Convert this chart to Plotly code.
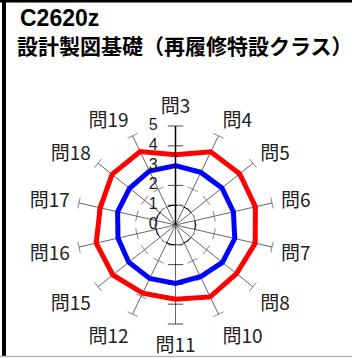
import plotly.graph_objects as go

categories = ["問3", "問4", "問5", "問6", "問7", "問8", "問10", "問11",
              "問12", "問15", "問16", "問17", "問18", "問19"]
series_red = [3.55, 4.10, 4.15, 4.14, 4.13, 3.94, 4.03, 3.75, 3.82, 4.05, 4.11, 3.90, 4.10, 4.12]
series_blue = [3.00, 2.95, 3.00, 3.00, 3.07, 3.03, 2.90, 2.95, 3.00, 3.02, 2.98, 3.00, 2.97, 3.03]
series_base = [1] * len(categories)
radial_ticks = [0, 1, 2, 3, 4, 5]
title_line1 = "C2620z"
title_line2 = "設計製図基礎（再履修特設クラス）"

n = len(categories)
FONT = "Noto Sans CJK JP, sans-serif"
NUMFONT = "Liberation Sans, Arial, sans-serif"

fig = go.Figure()

# tick marks across every spoke
tr, tt, ta, tc, ts = [], [], [], [], []
for i, c in enumerate(categories):
    ang = i * 360.0 / n
    axis_spoke = c in ("問3", "問11")
    for v in radial_ticks[1:]:
        tr.append(v)
        tt.append(c)
        ta.append(ang)
        tc.append("#000000" if axis_spoke else "#555555")
        ts.append(11 if axis_spoke else 8)
fig.add_trace(go.Scatterpolar(
    r=tr, theta=tt, mode="markers", hoverinfo="skip", showlegend=False,
    marker=dict(symbol="line-ew", size=ts, angle=ta,
                line=dict(width=1, color=tc)),
))

def closed(v):
    return list(v) + [v[0]]

cat_closed = closed(categories)

fig.add_trace(go.Scatterpolar(
    r=closed(series_base), theta=cat_closed, mode="lines", showlegend=False,
    line=dict(color="black", width=1, dash="dash", shape="spline"),
))
fig.add_trace(go.Scatterpolar(
    r=closed(series_blue), theta=cat_closed, mode="lines", showlegend=False,
    line=dict(color="#0000FF", width=5),
))
fig.add_trace(go.Scatterpolar(
    r=closed(series_red), theta=cat_closed, mode="lines", showlegend=False,
    line=dict(color="#FF0000", width=5),
))

# value-axis labels, placed to the left of the vertical axis
pad = "<span style='color:rgba(0,0,0,0)'>00</span>"
fig.add_trace(go.Scatterpolar(
    r=radial_ticks, theta=[categories[0]] * len(radial_ticks),
    mode="text", text=[f"{v}{pad}" for v in radial_ticks],
    textposition="middle left", hoverinfo="skip", showlegend=False,
    textfont=dict(size=16, family=NUMFONT, color="#222222"),
))

W, H = 352, 358
cx, cy, R = 175.5, 225.0, 99.0
fig.update_layout(
    width=W, height=H,
    margin=dict(l=0, r=0, t=0, b=0),
    paper_bgcolor="white",
    plot_bgcolor="white",
    font=dict(family=FONT, color="#222222"),
    polar=dict(
        domain=dict(x=[(cx - R) / W, (cx + R) / W],
                    y=[(H - cy - R) / H, (H - cy + R) / H]),
        bgcolor="rgba(0,0,0,0)",
        angularaxis=dict(
            type="category", categoryarray=categories,
            direction="clockwise", rotation=90,
            showline=False, showgrid=True, gridcolor="#666666", gridwidth=1,
            ticks="outside", ticklen=5, tickcolor="rgba(0,0,0,0)",
            tickfont=dict(size=19, family=FONT, color="#222222"),
        ),
        radialaxis=dict(
            range=[0, 5], tickvals=radial_ticks, angle=90,
            showgrid=False, showline=True, linecolor="black", linewidth=1.5,
            ticks="", showticklabels=False,
        ),
    ),
    shapes=[
        dict(type="line", xref="paper", yref="paper", x0=0, x1=1,
             y0=1 - 1 / H, y1=1 - 1 / H, line=dict(color="black", width=3)),
        dict(type="line", xref="paper", yref="paper", x0=4 / W, x1=4 / W,
             y0=1.5 / H, y1=1, line=dict(color="black", width=4)),
        dict(type="line", xref="paper", yref="paper", x0=0, x1=1,
             y0=1.5 / H, y1=1.5 / H, line=dict(color="#bbbbbb", width=1.5)),
    ],
    annotations=[
        dict(text="<b>" + title_line1 + "</b>", xref="paper", yref="paper",
             x=18 / W, y=1 - 18 / H, xanchor="left", yanchor="middle",
             showarrow=False, font=dict(size=23, family="Liberation Sans, Arial", color="black")),
        dict(text="<b>" + title_line2 + "</b>", xref="paper", yref="paper",
             x=15 / W, y=1 - 45 / H, xanchor="left", yanchor="middle",
             showarrow=False, font=dict(size=21, family=FONT, color="black")),
    ],
)

fig.write_html("out.html", config={"displayModeBar": False},
               post_script="document.body.style.margin='0';")
